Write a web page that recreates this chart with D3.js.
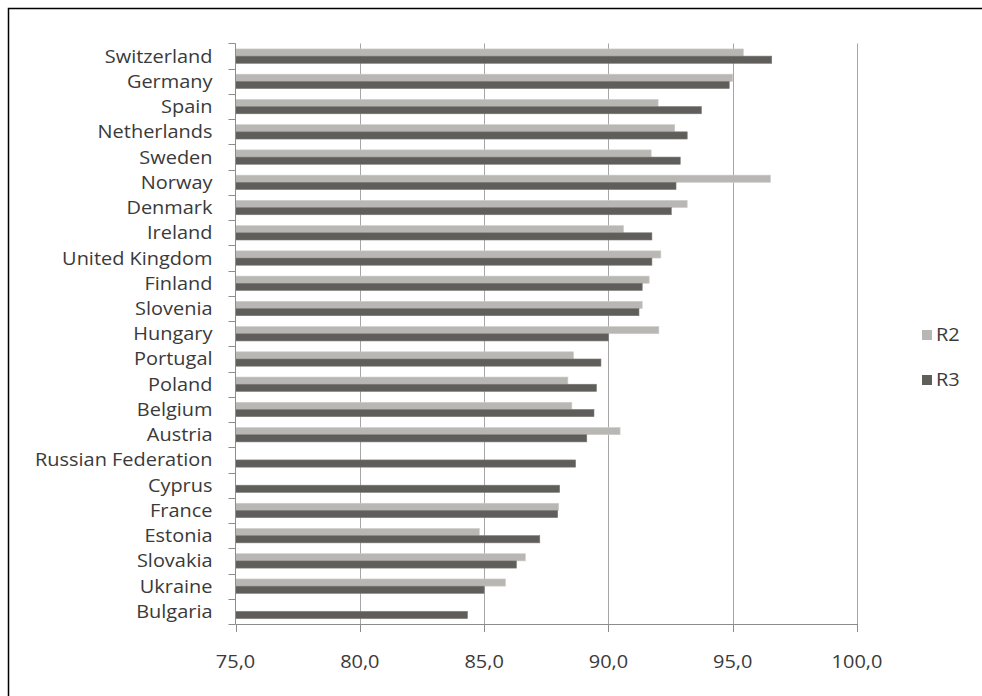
<!DOCTYPE html>
<html>
<head>
<meta charset="utf-8">
<script src="https://cdn.jsdelivr.net/npm/d3@7"></script>
<style>
  html, body { margin: 0; padding: 0; background: #fff; }
  svg { display: block; }
  text { font-family: "Open Sans", "Noto Sans", sans-serif; fill: #3a3a3a; }
</style>
</head>
<body>
<svg id="chart" width="982" height="696"></svg>
<script>
const categories = ["Switzerland","Germany","Spain","Netherlands","Sweden","Norway","Denmark","Ireland","United Kingdom","Finland","Slovenia","Hungary","Portugal","Poland","Belgium","Austria","Russian Federation","Cyprus","France","Estonia","Slovakia","Ukraine","Bulgaria"];
const seriesNames = ["R2","R3"];
const r2Values = [95.43,95.0,92.0,92.67,91.72,96.52,93.17,90.61,92.11,91.64,91.36,92.03,88.6,88.37,88.53,90.47,null,null,88.0,84.81,86.66,85.86,null];
const r3Values = [96.57,94.86,93.74,93.17,92.89,92.72,92.53,91.75,91.75,91.36,91.23,90.0,89.7,89.52,89.42,89.13,88.68,88.04,87.96,87.24,86.3,85.0,84.33];
const xTicks = [75,80,85,90,95,100];
const colors = {R2: "#b9b7b3", R3: "#5f5e5b"};

(function () {
const svg = d3.select("#chart");
const pLeft = 235.5, pRight = 857, pTop = 43.5, pBottom = 624;
const SX = 1.14; // horizontal stretch of text like the reference

// outer border
svg.append("rect").attr("x", 8.5).attr("y", 8.5).attr("width", 1000).attr("height", 700)
  .attr("fill", "none").attr("stroke", "#000").attr("stroke-width", 1.5);

const x = d3.scaleLinear().domain([75,100]).range([pLeft, pRight]);
const y = d3.scaleBand().domain(categories).range([pTop, pBottom]).paddingInner(0.43).paddingOuter(0.215);
const ySub = d3.scaleBand().domain(seriesNames).range([0, y.bandwidth()]);

// gridlines
svg.append("g").selectAll("line").data(xTicks.slice(1)).join("line")
  .attr("x1", d => Math.round(x(d)) + 0.5).attr("x2", d => Math.round(x(d)) + 0.5)
  .attr("y1", pTop).attr("y2", pBottom)
  .attr("stroke", "#a6a6a6").attr("stroke-width", 1);

// bars
const rows = categories.map((c, i) => ({c, R2: r2Values[i], R3: r3Values[i]}));
const g = svg.append("g");
rows.forEach(r => {
  seriesNames.forEach(s => {
    if (r[s] == null) return;
    g.append("rect")
      .attr("x", x(75))
      .attr("y", y(r.c) + ySub(s))
      .attr("width", x(r[s]) - x(75))
      .attr("height", ySub.bandwidth())
      .attr("fill", colors[s])
      .attr("stroke", s === "R2" ? "#cfcdca" : "#7a7976")
      .attr("stroke-width", 0.6);
  });
});

// y axis
const yAxis = svg.append("g").attr("transform", `translate(${pLeft},0)`);
yAxis.append("line").attr("x1", 0).attr("x2", 0).attr("y1", pTop).attr("y2", pBottom)
  .attr("stroke", "#8c8c8c");
const yBounds = categories.map(c => y(c) - y.step() * y.paddingOuter()).concat([pBottom]);
yAxis.selectAll("line.tk").data(yBounds).join("line").attr("class","tk")
  .attr("x1", -7).attr("x2", 0).attr("y1", d => Math.round(d) + 0.5).attr("y2", d => Math.round(d) + 0.5)
  .attr("stroke", "#8c8c8c");
yAxis.selectAll("text").data(categories).join("text")
  .attr("text-anchor", "end")
  .attr("transform", d => `translate(-23,${y(d) + y.bandwidth()/2 + 6.5}) scale(${SX},1)`)
  .style("font-size", "17.5px")
  .text(d => d);

// x axis
const xAxis = svg.append("g").attr("transform", `translate(0,${pBottom})`);
xAxis.append("line").attr("x1", pLeft).attr("x2", pRight).attr("y1", 0.5).attr("y2", 0.5).attr("stroke", "#8c8c8c");
xAxis.selectAll("line.tk").data(xTicks).join("line").attr("class","tk")
  .attr("x1", d => Math.round(x(d)) + 0.5).attr("x2", d => Math.round(x(d)) + 0.5)
  .attr("y1", 0).attr("y2", 8).attr("stroke", "#8c8c8c");
xAxis.selectAll("text").data(xTicks).join("text")
  .attr("text-anchor", "middle")
  .attr("transform", d => `translate(${x(d)},44) scale(${SX},1)`)
  .style("font-size", "17.5px")
  .text(d => d3.format(".1f")(d).replace(".", ","));

// legend
const leg = svg.append("g");
seriesNames.forEach((s, i) => {
  const ly = 330 + i * 45;
  leg.append("rect").attr("x", 922).attr("y", ly).attr("width", 10).attr("height", 10).attr("fill", colors[s]);
  leg.append("text").attr("transform", `translate(936,${ly + 11}) scale(${SX},1)`)
    .style("font-size", "17.5px").text(s);
});
})();
</script>
</body>
</html>
